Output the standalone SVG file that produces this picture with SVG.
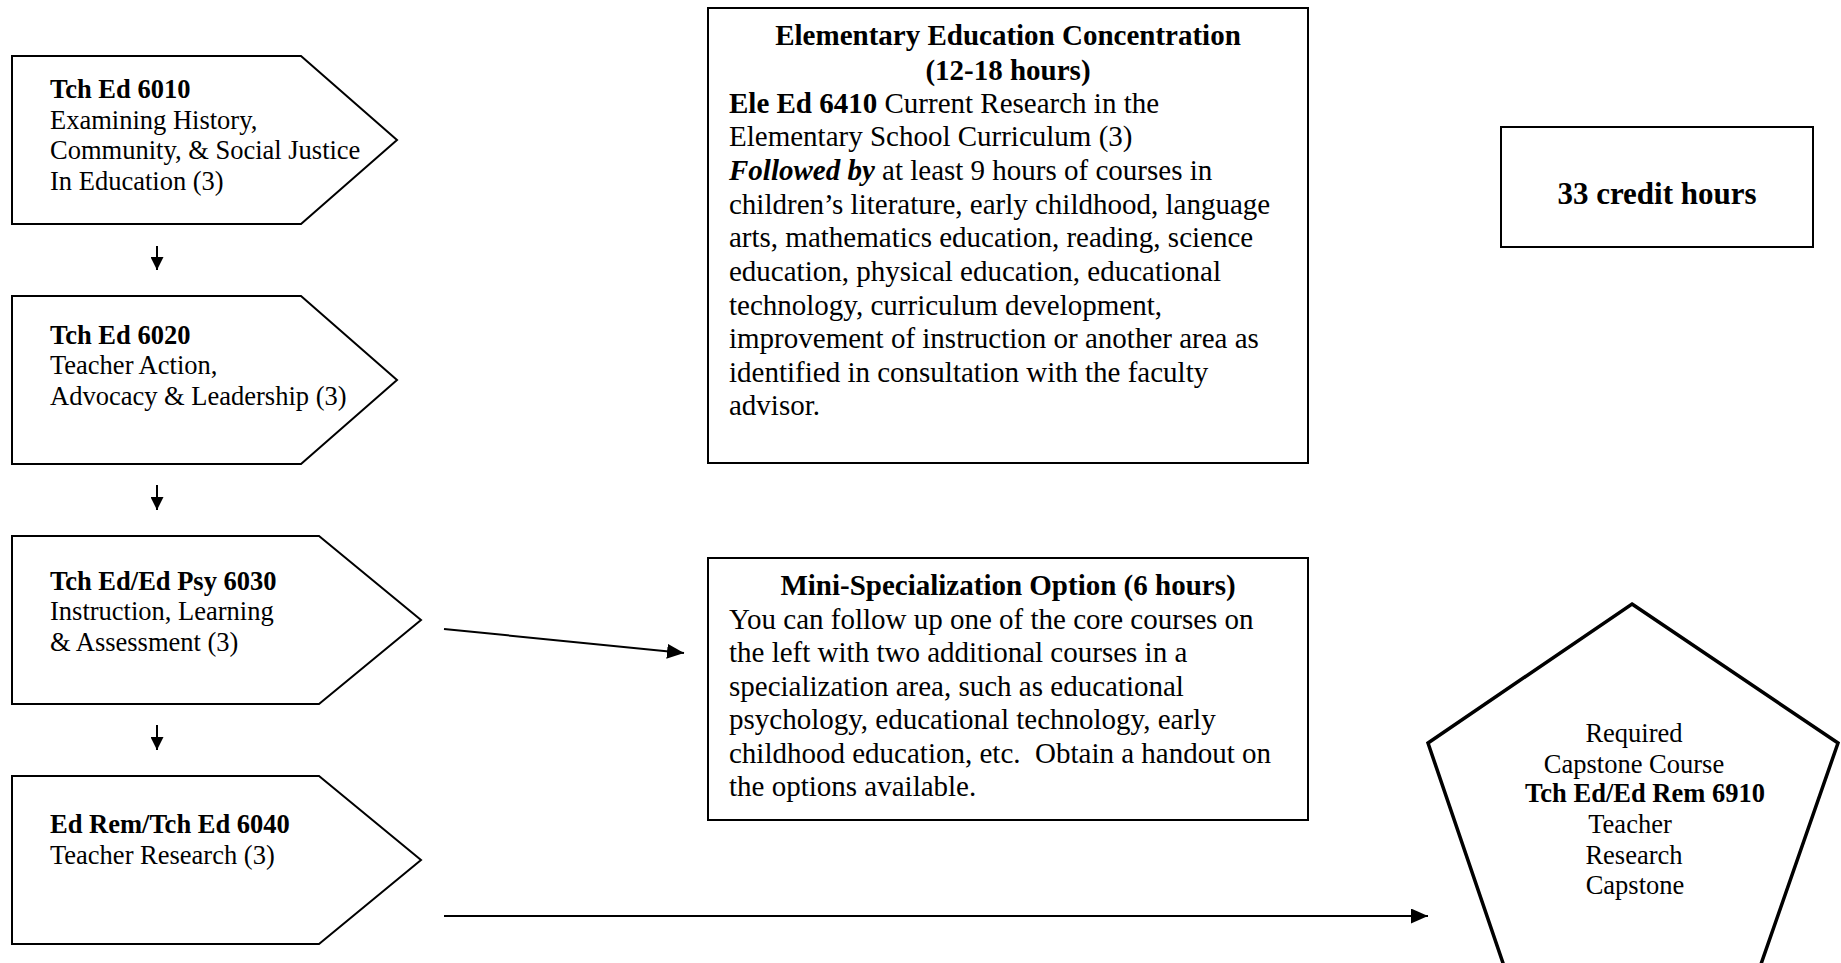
<svg xmlns="http://www.w3.org/2000/svg" width="1841" height="963" viewBox="0 0 1841 963">
<style>
text{font-family:"Liberation Serif","Times New Roman",serif;fill:#000}
.s{font-size:26.5px}
.m{font-size:29px}
.b{font-weight:bold}
.bi{font-weight:bold;font-style:italic}
.c{text-anchor:middle}
.shape{fill:#fff;stroke:#000;stroke-width:2}
.pent{fill:#fff;stroke:#000;stroke-width:3.5}
.conn{stroke:#000;stroke-width:2;fill:none}
</style>
<defs>
<marker id="ah" viewBox="0 0 10 10" refX="10" refY="5" markerUnits="userSpaceOnUse" markerWidth="13" markerHeight="13" orient="auto">
<path d="M0,0 L10,5 L0,10 z" fill="#000"/>
</marker>
<marker id="ahl" viewBox="0 0 10 10" refX="10" refY="5" markerUnits="userSpaceOnUse" markerWidth="17" markerHeight="15" orient="auto" preserveAspectRatio="none">
<path d="M0,0 L10,5 L0,10 z" fill="#000"/>
</marker>
</defs>

<g id="connectors">
<line class="conn" x1="157" y1="246" x2="157" y2="270" marker-end="url(#ah)"/>
<line class="conn" x1="157" y1="485" x2="157" y2="510" marker-end="url(#ah)"/>
<line class="conn" x1="157" y1="725" x2="157" y2="750" marker-end="url(#ah)"/>
<line class="conn" x1="444" y1="629" x2="684" y2="653" marker-end="url(#ahl)"/>
<line class="conn" x1="444" y1="916" x2="1428" y2="916" marker-end="url(#ahl)"/>
</g>

<g id="node-6010">
<polygon class="shape" points="12,56 301,56 397,140 301,224 12,224"/>
<text class="s b" x="50" y="98">Tch Ed 6010</text>
<text class="s" x="50" y="128.5">Examining History,</text>
<text class="s" x="50" y="159">Community, &amp; Social Justice</text>
<text class="s" x="50" y="189.5">In Education (3)</text>
</g>

<g id="node-6020">
<polygon class="shape" points="12,296 301,296 397,380 301,464 12,464"/>
<text class="s b" x="50" y="343.5">Tch Ed 6020</text>
<text class="s" x="50" y="374">Teacher Action,</text>
<text class="s" x="50" y="404.5">Advocacy &amp; Leadership (3)</text>
</g>

<g id="node-6030">
<polygon class="shape" points="12,536 319,536 421,620 319,704 12,704"/>
<text class="s b" x="50" y="589.5">Tch Ed/Ed Psy 6030</text>
<text class="s" x="50" y="620">Instruction, Learning</text>
<text class="s" x="50" y="651">&amp; Assessment (3)</text>
</g>

<g id="node-6040">
<polygon class="shape" points="12,776 319,776 421,860 319,944 12,944"/>
<text class="s b" x="50" y="833">Ed Rem/Tch Ed 6040</text>
<text class="s" x="50" y="864">Teacher Research (3)</text>
</g>

<g id="node-elementary">
<rect class="shape" x="708" y="8" width="600" height="455"/>
<text class="m b c" x="1008" y="45">Elementary Education Concentration</text>
<text class="m b c" x="1008" y="79.5">(12-18 hours)</text>
<text class="m" x="729" y="112.5"><tspan class="b">Ele Ed 6410</tspan> Current Research in the</text>
<text class="m" x="729" y="146">Elementary School Curriculum (3)</text>
<text class="m" x="729" y="180"><tspan class="bi">Followed by</tspan> at least 9 hours of courses in</text>
<text class="m" x="729" y="213.5">children’s literature, early childhood, language</text>
<text class="m" x="729" y="247">arts, mathematics education, reading, science</text>
<text class="m" x="729" y="281">education, physical education, educational</text>
<text class="m" x="729" y="314.5">technology, curriculum development,</text>
<text class="m" x="729" y="348">improvement of instruction or another area as</text>
<text class="m" x="729" y="381.5">identified in consultation with the faculty</text>
<text class="m" x="729" y="415">advisor.</text>
</g>

<g id="node-mini">
<rect class="shape" x="708" y="558" width="600" height="262"/>
<text class="m b c" x="1008" y="595">Mini-Specialization Option (6 hours)</text>
<text class="m" x="729" y="628.5">You can follow up one of the core courses on</text>
<text class="m" x="729" y="662">the left with two additional courses in a</text>
<text class="m" x="729" y="695.5">specialization area, such as educational</text>
<text class="m" x="729" y="729">psychology, educational technology, early</text>
<text class="m" x="729" y="762.5" style="white-space:pre">childhood education, etc.  Obtain a handout on</text>
<text class="m" x="729" y="796">the options available.</text>
</g>

<g id="node-credits">
<rect class="shape" x="1501" y="127" width="312" height="120"/>
<text class="b c" x="1657" y="204" style="font-size:31px">33 credit hours</text>
</g>

<g id="node-capstone">
<polygon class="pent" points="1632,604 1838,743 1745,1010 1519,1010 1428,743"/>
<text class="s c" x="1634" y="742">Required</text>
<text class="s c" x="1634" y="773">Capstone Course</text>
<text class="s b c" x="1645" y="802">Tch Ed/Ed Rem 6910</text>
<text class="s c" x="1630" y="833">Teacher</text>
<text class="s c" x="1634" y="864">Research</text>
<text class="s c" x="1635" y="894">Capstone</text>
</g>
</svg>
